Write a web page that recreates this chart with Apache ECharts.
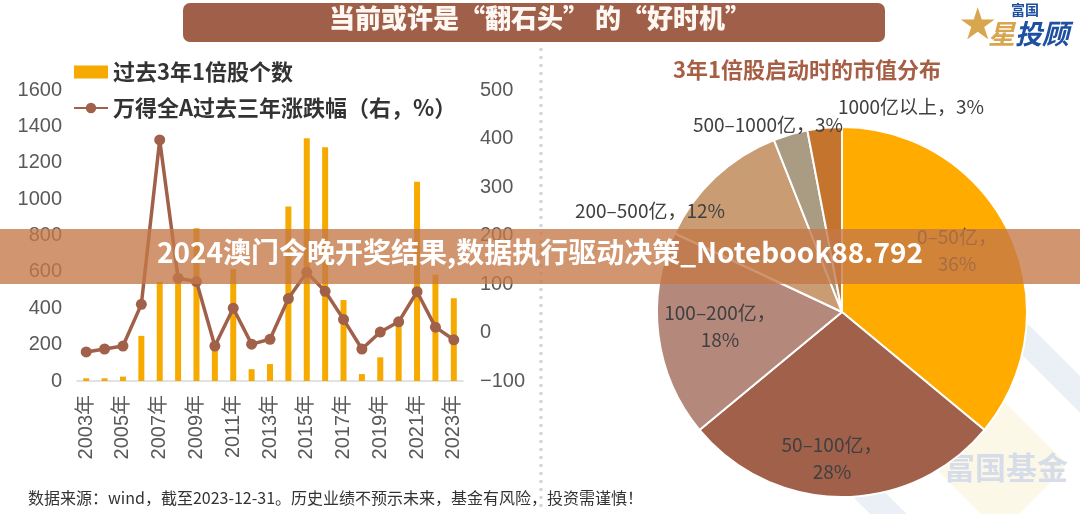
<!DOCTYPE html>
<html><head><meta charset="utf-8">
<script src="https://cdn.jsdelivr.net/npm/echarts@6/dist/echarts.min.js"></script>
<style>html,body{margin:0;padding:0;background:#fff}#c{width:1080px;height:514px}</style>
</head><body><div id="c"></div>
<script>
// ---------- data ----------
const categories = ['2003年','2004年','2005年','2006年','2007年','2008年','2009年','2010年','2011年','2012年','2013年','2014年','2015年','2016年','2017年','2018年','2019年','2020年','2021年','2022年','2023年'];
const doubledCounts = [15, 15, 24, 248, 545, 545, 840, 200, 615, 65, 93, 960, 1335, 1285, 445, 38, 130, 330, 1095, 585, 455];
const windAReturn3y = [-40, -34, -28, 58, 397, 112, 105, -28, 50, -24, -14, 70, 124, 85, 27, -34, 1, 22, 84, 11, -15];
const leftAxisTicks = {min: 0, max: 1600, step: 200};
const rightAxisTicks = {min: -100, max: 500, step: 100};
const pieNames = ['0–50亿', '50–100亿', '100–200亿', '200–500亿', '500–1000亿', '1000亿以上'];
const pieValues = [36, 28, 18, 12, 3, 3];
const seriesNames = ['过去3年1倍股个数', '万得全A过去三年涨跌幅（右，%）'];

// ---------- styling / layout ----------
const CJK = '"Noto Sans CJK SC", sans-serif';
const NUM = '"Liberation Sans", "Noto Sans CJK SC", sans-serif';
const BROWN = '#A0604A';
const pieColors = ['#FFAB00', '#A0604A', '#B5887C', '#C99C73', '#A99C83', '#C5742E'];
const pieLabelPos = [[957, 250], [832, 458], [720, 326], [650, 211], [768, 125], [911, 107]];

const chart = echarts.init(document.getElementById('c'));
chart.setOption({
  backgroundColor: '#fff',
  animation: false,
  legend: {
    orient: 'vertical', left: 68, top: 55, itemGap: 12,
    itemWidth: 34, itemHeight: 13,
    textStyle: {fontFamily: CJK, fontSize: 22, fontWeight: 'bold', color: '#333', lineHeight: 24},
    data: [{name: seriesNames[0], icon: 'rect'}, {name: seriesNames[1]}]
  },
  grid: {left: 77, right: 617, top: 90, bottom: 133},
  xAxis: {
    type: 'category', data: categories,
    axisLine: {lineStyle: {color: '#D9D9D9', width: 1.5}},
    axisTick: {show: false},
    axisLabel: {interval: 1, rotate: 90, margin: 14, fontFamily: NUM, fontSize: 20, color: '#595959'}
  },
  yAxis: [{
    type: 'value', min: leftAxisTicks.min, max: leftAxisTicks.max, interval: leftAxisTicks.step,
    axisLine: {show: false}, axisTick: {show: false}, splitLine: {show: false},
    axisLabel: {margin: 15, fontFamily: NUM, fontSize: 20, color: '#595959', formatter: v => String(v)}
  }, {
    type: 'value', min: rightAxisTicks.min, max: rightAxisTicks.max, interval: rightAxisTicks.step,
    axisLine: {show: false}, axisTick: {show: false}, splitLine: {show: false},
    axisLabel: {margin: 17, fontFamily: NUM, fontSize: 20, color: '#595959',
      formatter: v => (v < 0 ? '−' + Math.abs(v) : String(v))}
  }],
  series: [{
    name: seriesNames[0], type: 'bar', data: doubledCounts, yAxisIndex: 0,
    barWidth: 6, itemStyle: {color: '#F6AA00'}, z: 2
  }, {
    name: seriesNames[1], type: 'line', data: windAReturn3y, yAxisIndex: 1,
    symbol: 'circle', symbolSize: 11,
    lineStyle: {color: BROWN, width: 3.5}, itemStyle: {color: BROWN}, z: 3
  }, {
    name: '市值分布', type: 'pie', center: [842, 312], radius: 185,
    startAngle: 90, clockwise: true,
    data: pieNames.map((n, i) => ({name: n, value: pieValues[i], itemStyle: {color: pieColors[i]}})),
    itemStyle: {borderColor: '#fff', borderWidth: 2},
    label: {
      show: true, position: 'inside', color: '#404040', fontFamily: CJK, fontSize: 19, lineHeight: 27,
      formatter: p => p.dataIndex < 3 ? p.name + '，\n' + p.value + '%' : p.name + '，' + p.value + '%'
    },
    labelLine: {show: false},
    labelLayout: p => ({x: pieLabelPos[p.dataIndex][0], y: pieLabelPos[p.dataIndex][1], align: 'center', verticalAlign: 'middle'}),
    emphasis: {disabled: true}, z: 2
  }],
  graphic: [
    // watermark (behind)
    {type: 'rect', z: -1, x: 1000, y: 470, rotation: Math.PI / 4,
      shape: {x: -110, y: -110, width: 220, height: 220, r: 30},
      style: {fill: 'none', stroke: '#EBEFF6', lineWidth: 26}},
    {type: 'rect', z: -1, x: 1000, y: 465, rotation: Math.PI / 4,
      shape: {x: -48, y: -48, width: 96, height: 96, r: 10},
      style: {fill: '#FCF8E8'}},
    {type: 'text', z: -1, left: 944, top: 452,
      style: {text: '富国基金', font: 'bold 31px ' + CJK, fill: '#D6DDE8'}},
    // title bar
    {type: 'rect', shape: {x: 183, y: 3, width: 702, height: 39, r: 7}, style: {fill: '#9F5F49'}},
    {type: 'text', left: 'center', top: 5, style: {text: '当前或许是“翻石头” 的“好时机”', font: '900 26px ' + CJK, fill: '#FFF8F2'}},
    // logo
    {type: 'text', left: 958, top: 6, style: {text: '★', font: '44px "DejaVu Sans"', fill: '#D9A650'}},
    {type: 'text', left: 1011, top: 3, style: {text: '富国', font: 'bold 14px ' + CJK, fill: '#1E4FA0'}},
    {type: 'text', left: 988, top: 20, style: {text: '星', font: 'italic bold 27px ' + CJK, fill: '#D9A650'}},
    {type: 'text', left: 1015, top: 20, style: {text: '投顾', font: 'italic bold 27px ' + CJK, fill: '#1E4FA0'}},
    // pie subtitle
    {type: 'text', left: 673, top: 59, style: {text: '3年1倍股启动时的市值分布', font: 'bold 22px ' + CJK, fill: '#A65E45'}},
    // separator
    {type: 'line', shape: {x1: 541, y1: 48, x2: 541, y2: 512}, style: {stroke: '#D4D4D4', lineWidth: 3, lineDash: [3, 5]}},
    // footer
    {type: 'text', left: 28, top: 490, style: {text: '数据来源：wind，截至2023-12-31。历史业绩不预示未来，基金有风险，投资需谨慎！', font: '16px ' + CJK, fill: '#333'}},
    // overlay band
    {type: 'rect', z: 100, shape: {x: 0, y: 229, width: 1080, height: 55}, style: {fill: 'rgba(196,120,70,0.78)'}},
    {type: 'text', z: 101, left: 'center', top: 238, style: {text: '2024澳门今晚开奖结果,数据执行驱动决策_Notebook88.792', font: 'bold 28px ' + CJK, fill: '#fff'}}
  ]
});
</script>
</body></html>
